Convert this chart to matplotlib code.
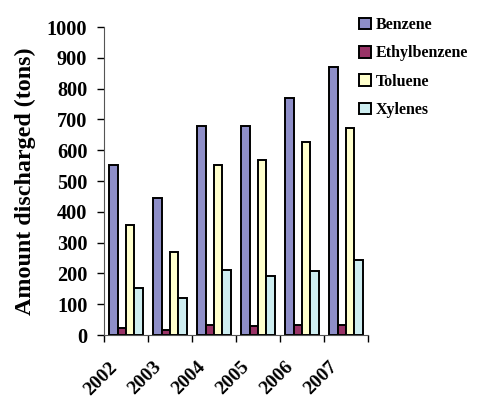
import matplotlib
matplotlib.use("Agg")
import matplotlib.pyplot as plt
import matplotlib.transforms as mtransforms
import numpy as np

years = ["2002", "2003", "2004", "2005", "2006", "2007"]
series_names = ["Benzene", "Ethylbenzene", "Toluene", "Xylenes"]
benzene = [552, 446, 680, 680, 768, 869]
ethylbenzene = [24, 16, 32, 30, 32, 32]
toluene = [357, 270, 552, 569, 626, 673]
xylenes = [152, 121, 211, 190, 209, 245]
colors = ["#8E8EC8", "#993366", "#FFFFCC", "#CDEDF0"]

plt.rcParams['font.family'] = ['Liberation Serif', 'DejaVu Serif']
plt.rcParams['font.weight'] = 'bold'

fig = plt.figure(figsize=(4.8, 3.99), dpi=100)
ax = fig.add_axes([0.2167, 0.1604, 0.55, 0.7719])

x = np.arange(len(years))
w = 0.19
data = [benzene, ethylbenzene, toluene, xylenes]
for i, (name, vals, c) in enumerate(zip(series_names, data, colors)):
    ax.bar(x + (i - 1.5) * w, vals, width=w, color=c, edgecolor='black',
           linewidth=1.4, label=name)

ax.set_xlim(-0.5, len(years) - 0.5)
ax.set_ylim(0, 1000)
ax.set_yticks(range(0, 1001, 100))
ax.tick_params(axis='y', labelsize=14.6, length=5, width=1, direction='out', pad=7)
ax.set_xticks(np.arange(-0.5, len(years), 1.0))
ax.set_xticklabels([])
ax.tick_params(axis='x', length=5, width=1, direction='out')
ax.set_xticks(x, minor=True)
ax.set_xticklabels(years, minor=True, rotation=45, ha='right', rotation_mode='anchor',
                   fontsize=14, fontweight='bold')
ax.tick_params(axis='x', which='minor', length=0, pad=17)
offset = mtransforms.ScaledTranslation(-17 / 100, 0, fig.dpi_scale_trans)
for lab in ax.get_xticklabels(minor=True):
    lab.set_transform(lab.get_transform() + offset)
for lab in ax.get_yticklabels():
    lab.set_fontweight('bold')

ax.spines['top'].set_visible(False)
ax.spines['right'].set_visible(False)
ax.spines['left'].set_color('#555555')
ax.spines['bottom'].set_color('#555555')
ax.set_ylabel("Amount discharged (tons)", fontsize=17.3, fontweight='bold', labelpad=8)

leg = fig.legend(loc='upper left', bbox_to_anchor=(0.735, 0.973), frameon=False,
                 fontsize=11.5, handlelength=0.75, handleheight=0.75,
                 handletextpad=0.3, labelspacing=0.77, borderaxespad=0)
for t in leg.get_texts():
    t.set_fontweight('bold')

fig.savefig("out.png", dpi=100)
